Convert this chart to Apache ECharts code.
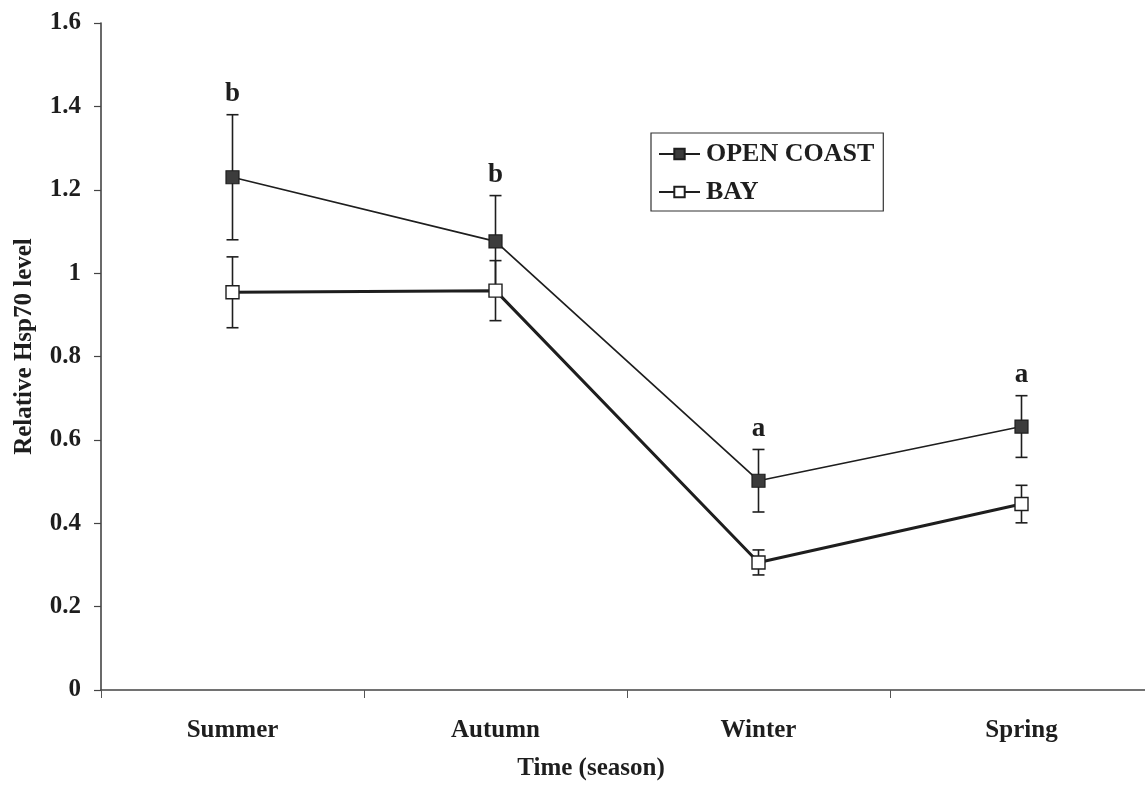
<!DOCTYPE html>
<html>
<head>
<meta charset="utf-8">
<script src="https://cdn.jsdelivr.net/npm/echarts@6/dist/echarts.min.js"></script>
<style>
  html, body { margin: 0; padding: 0; background: #fff; }
  #chart { width: 1145px; height: 794px; }
</style>
</head>
<body>
<div id="chart"></div>
<script>
// Seasonal Hsp70 levels, mean ± error, for two sampling sites
const seasons = ['Summer', 'Autumn', 'Winter', 'Spring'];
const openCoast = [1.23, 1.076, 0.502, 0.632];
const openCoastErr = [0.15, 0.11, 0.075, 0.074];
const bay = [0.954, 0.958, 0.306, 0.446];
const bayErr = [0.085, 0.072, 0.03, 0.045];
// significance letters shown above the OPEN COAST error bars
const groupLetters = ['b', 'b', 'a', 'a'];

const FONT = '"Liberation Serif", "Times New Roman", serif';
const INK = '#1e1e1e';

function errorRows(means, errs) {
  return means.map((m, i) => [i, m - errs[i], m + errs[i]]);
}

function renderErrorBar(params, api) {
  const x = api.value(0);
  const lo = api.coord([x, api.value(1)]);
  const hi = api.coord([x, api.value(2)]);
  const half = 6;
  const style = { stroke: INK, lineWidth: 1.6 };
  return {
    type: 'group',
    children: [
      { type: 'line', shape: { x1: lo[0], y1: lo[1], x2: hi[0], y2: hi[1] }, style },
      { type: 'line', shape: { x1: hi[0] - half, y1: hi[1], x2: hi[0] + half, y2: hi[1] }, style },
      { type: 'line', shape: { x1: lo[0] - half, y1: lo[1], x2: lo[0] + half, y2: lo[1] }, style }
    ]
  };
}

function renderLetter(params, api) {
  const i = api.value(0);
  const top = api.coord([i, api.value(1)]);
  return {
    type: 'text',
    x: top[0],
    y: top[1] - 7,
    style: {
      text: groupLetters[i],
      fill: INK,
      font: 'bold 27px ' + FONT,
      align: 'center',
      verticalAlign: 'bottom'
    }
  };
}

const chart = echarts.init(document.getElementById('chart'), null, { renderer: 'canvas' });

chart.setOption({
  backgroundColor: '#ffffff',
  animation: false,
  textStyle: { fontFamily: FONT, color: INK },
  grid: { left: 101, width: 1052, top: 23, bottom: 104, containLabel: false, outerBoundsMode: 'none' },
  legend: {
    left: 651,
    top: 133,
    orient: 'vertical',
    data: ['OPEN COAST', 'BAY'],
    itemWidth: 41,
    itemHeight: 13,
    itemGap: 12,
    padding: [8, 9, 6, 7],
    borderColor: '#333',
    borderWidth: 1.2,
    backgroundColor: '#fff',
    textStyle: { fontFamily: FONT, fontWeight: 'bold', fontSize: 26, color: INK, padding: [0, 0, 0, 1] }
  },
  xAxis: {
    type: 'category',
    data: seasons,
    boundaryGap: true,
    name: 'Time (season)',
    nameLocation: 'middle',
    nameGap: 66,
    nameTextStyle: { fontFamily: FONT, fontWeight: 'bold', fontSize: 25, color: INK, padding: [0, 72, 0, 0] },
    axisLine: { show: true, lineStyle: { color: '#444', width: 1.6 } },
    axisTick: { show: true, length: 8, alignWithLabel: false, lineStyle: { color: '#555', width: 1 } },
    axisLabel: { margin: 28, fontFamily: FONT, fontWeight: 'bold', fontSize: 25, color: INK },
    splitLine: { show: false }
  },
  yAxis: {
    type: 'value',
    min: 0,
    max: 1.6,
    interval: 0.2,
    name: 'Relative Hsp70 level',
    nameLocation: 'middle',
    nameGap: 64,
    nameTextStyle: { fontFamily: FONT, fontWeight: 'bold', fontSize: 25, color: INK, padding: [0, 0, 0, 20] },
    axisLine: { show: true, lineStyle: { color: '#444', width: 1.6 } },
    axisTick: { show: true, length: 7, lineStyle: { color: '#444', width: 1.2 } },
    axisLabel: { margin: 20, fontFamily: FONT, fontWeight: 'bold', fontSize: 25, color: INK },
    splitLine: { show: false }
  },
  series: [
    {
      name: 'OPEN COAST err',
      type: 'custom',
      renderItem: renderErrorBar,
      data: errorRows(openCoast, openCoastErr),
      encode: { x: 0, y: [1, 2] },
      z: 1,
      silent: true
    },
    {
      name: 'BAY err',
      type: 'custom',
      renderItem: renderErrorBar,
      data: errorRows(bay, bayErr),
      encode: { x: 0, y: [1, 2] },
      z: 1,
      silent: true
    },
    {
      name: 'BAY',
      type: 'line',
      data: bay,
      symbol: 'rect',
      symbolSize: 13,
      showAllSymbol: true,
      lineStyle: { color: INK, width: 3 },
      itemStyle: { color: '#ffffff', borderColor: INK, borderWidth: 1.4 },
      z: 3
    },
    {
      name: 'OPEN COAST',
      type: 'line',
      data: openCoast,
      symbol: 'rect',
      symbolSize: 13,
      showAllSymbol: true,
      lineStyle: { color: INK, width: 1.7 },
      itemStyle: { color: '#3c3c3c', borderColor: INK, borderWidth: 1.2 },
      z: 4
    },
    {
      name: 'letters',
      type: 'custom',
      renderItem: renderLetter,
      data: openCoast.map((m, i) => [i, m + openCoastErr[i]]),
      encode: { x: 0, y: 1 },
      z: 5,
      silent: true
    }
  ]
});
</script>
</body>
</html>
